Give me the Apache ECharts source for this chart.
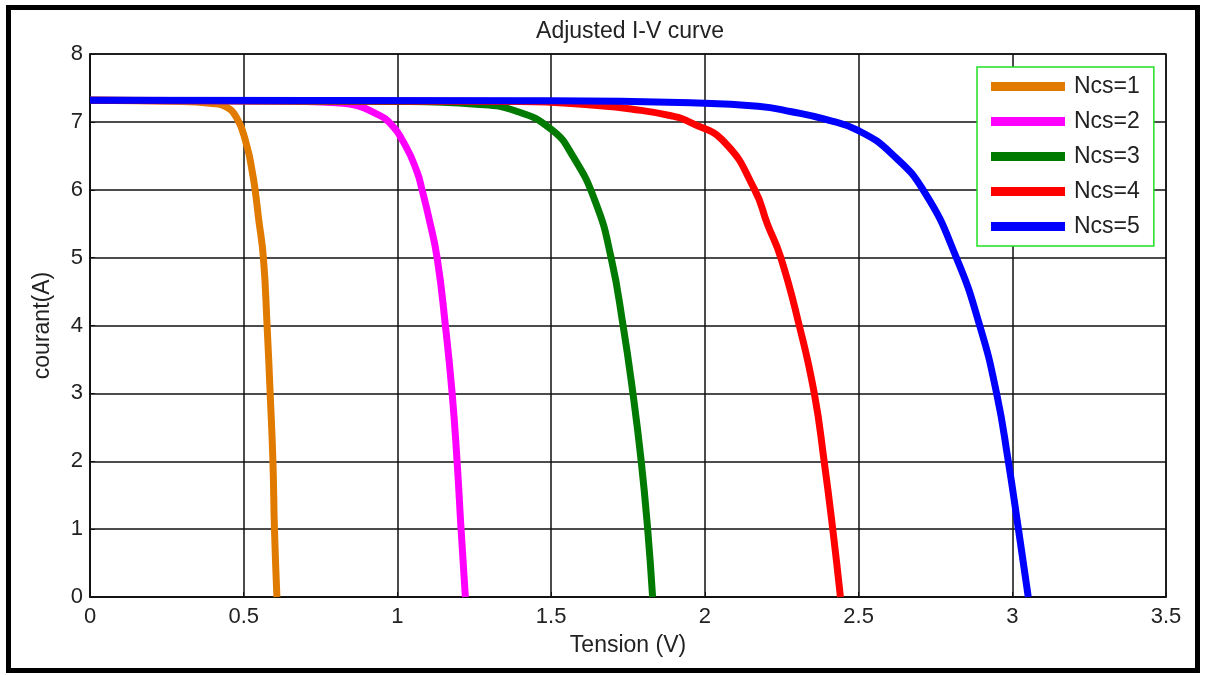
<!DOCTYPE html>
<html>
<head>
<meta charset="utf-8">
<script src="https://cdn.jsdelivr.net/npm/echarts@6/dist/echarts.min.js"></script>
<style>
html,body{margin:0;padding:0;background:#fff;}
#chart{width:1207px;height:675px;}
</style>
</head>
<body>
<div id="chart"></div>
<script>
// Points: voltage (V) and current (A)
const voltNcs1 = [0, 0.30, 0.40, 0.434, 0.477, 0.510, 0.528, 0.537, 0.548, 0.564, 0.576, 0.586, 0.595, 0.600, 0.608];
const currNcs1 = [7.32, 7.30, 7.27, 7.24, 7.06, 6.65, 6.26, 6.00, 5.59, 5.00, 4.00, 3.00, 2.00, 1.00, 0];
const voltNcs2 = [0, 0.70, 0.80, 0.869, 0.930, 0.972, 1.026, 1.064, 1.080, 1.102, 1.129, 1.156, 1.178, 1.194, 1.207, 1.221];
const currNcs2 = [7.32, 7.30, 7.28, 7.24, 7.12, 7.00, 6.65, 6.26, 6.00, 5.59, 5.00, 4.00, 3.00, 2.00, 1.00, 0];
const voltNcs3 = [0, 1.00, 1.255, 1.385, 1.500, 1.570, 1.645, 1.695, 1.734, 1.766, 1.793, 1.814, 1.830];
const currNcs3 = [7.32, 7.30, 7.26, 7.16, 6.89, 6.50, 5.81, 5.00, 4.00, 3.00, 2.00, 1.00, 0];
const voltNcs4 = [0, 1.40, 1.650, 1.760, 1.890, 1.954, 2.064, 2.162, 2.203, 2.247, 2.307, 2.356, 2.388, 2.416, 2.441];
const currNcs4 = [7.32, 7.30, 7.24, 7.19, 7.09, 6.99, 6.70, 6.00, 5.50, 5.00, 4.00, 3.00, 2.00, 1.00, 0];
const voltNcs5 = [0, 1.50, 1.954, 2.173, 2.282, 2.390, 2.500, 2.610, 2.715, 2.818, 2.894, 2.949, 2.987, 3.020, 3.052];
const currNcs5 = [7.32, 7.31, 7.28, 7.23, 7.15, 7.04, 6.87, 6.52, 5.96, 5.00, 4.00, 3.00, 2.00, 1.00, 0];
const seriesNames = ['Ncs=1', 'Ncs=2', 'Ncs=3', 'Ncs=4', 'Ncs=5'];
const seriesColors = ['#e07b00', '#ff00ff', '#007a00', '#ff0000', '#0000ff'];
const xTicks = [0, 0.5, 1, 1.5, 2, 2.5, 3, 3.5];
const yTicks = [0, 1, 2, 3, 4, 5, 6, 7, 8];

const volts = [voltNcs1, voltNcs2, voltNcs3, voltNcs4, voltNcs5];
const currs = [currNcs1, currNcs2, currNcs3, currNcs4, currNcs5];
const FONT = '"Liberation Sans", Arial, sans-serif';

const chart = echarts.init(document.getElementById('chart'), null, {renderer: 'canvas'});
const series = volts.map((v, k) => ({
  name: seriesNames[k],
  type: 'line',
  data: v.map((x, i) => [x, currs[k][i]]),
  showSymbol: false,
  smooth: 0.5,
  lineStyle: {color: seriesColors[k], width: 7},
  itemStyle: {color: seriesColors[k]},
  z: 3 + k
}));

chart.setOption({
  animation: false,
  backgroundColor: '#fff',
  title: {
    text: 'Adjusted I-V curve',
    left: 625, top: 15, textAlign: 'center',
    textStyle: {fontFamily: FONT, fontSize: 23, fontWeight: 'normal', color: '#222'}
  },
  grid: {
    left: 90, right: 41, top: 54, bottom: 78,
    show: true, borderColor: '#111', borderWidth: 1.5, backgroundColor: 'transparent'
  },
  legend: {
    orient: 'vertical',
    left: 977, top: 67,
    data: seriesNames,
    icon: 'rect',
    itemWidth: 74, itemHeight: 9, itemGap: 12,
    padding: [8, 14, 8, 14],
    borderColor: '#22e022', borderWidth: 1.5,
    backgroundColor: '#fff',
    textStyle: {fontFamily: FONT, fontSize: 23, color: '#222', padding: [0, 0, 0, 4], lineHeight: 23}
  },
  xAxis: {
    type: 'value', min: xTicks[0], max: xTicks[xTicks.length - 1], interval: 0.5,
    name: 'Tension (V)', nameLocation: 'middle', nameGap: 37,
    nameTextStyle: {fontFamily: FONT, fontSize: 23, color: '#222'},
    axisLine: {show: true, onZero: false, lineStyle: {color: '#111', width: 1.5}},
    axisTick: {show: true, inside: true, length: 5, lineStyle: {color: '#111'}},
    axisLabel: {fontFamily: FONT, fontSize: 22, color: '#222', margin: 9},
    splitLine: {show: true, lineStyle: {color: '#111', width: 1.5}}
  },
  yAxis: {
    type: 'value', min: yTicks[0], max: yTicks[yTicks.length - 1], interval: 1,
    name: 'courant(A)', nameLocation: 'middle', nameGap: 36, nameRotate: 90,
    nameTextStyle: {fontFamily: FONT, fontSize: 23, color: '#222'},
    axisLine: {show: true, onZero: false, lineStyle: {color: '#111', width: 1.5}},
    axisTick: {show: true, inside: true, length: 5, lineStyle: {color: '#111'}},
    axisLabel: {fontFamily: FONT, fontSize: 22, color: '#222', margin: 7},
    splitLine: {show: true, lineStyle: {color: '#111', width: 1.5}}
  },
  graphic: [{
    type: 'rect', silent: true, z: 100,
    shape: {x: 8.5, y: 7.5, width: 1189, height: 663},
    style: {fill: 'none', stroke: '#000', lineWidth: 5}
  }],
  series: series
});
</script>
</body>
</html>
